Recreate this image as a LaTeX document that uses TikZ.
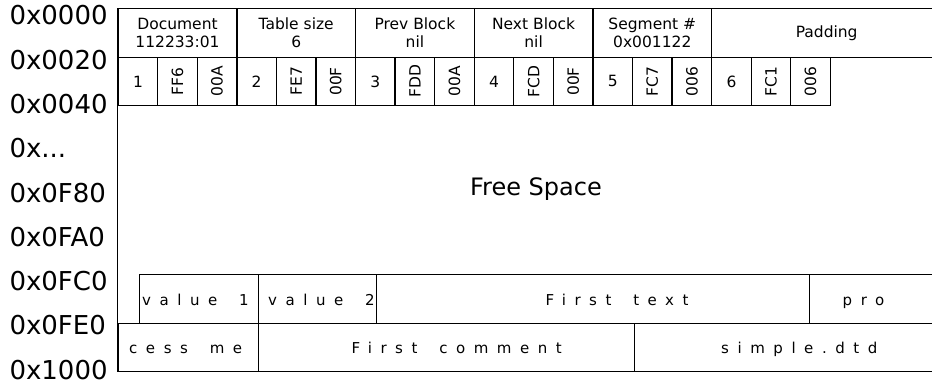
\documentclass[tikz,border=0pt]{standalone}
\usepackage{graphicx}
\usepackage{fontspec}
\setmainfont{DejaVu Sans}
\newfontfamily\spacedfamily[LetterSpace=57]{DejaVu Sans}
\newcommand\hdrfont{\fontsize{15.5}{18.3}\selectfont}
\newcommand\bytefont{\spacedfamily\fontsize{15}{18}\selectfont}
\newcommand\addrfont{\fontsize{26}{30}\selectfont}
\newcommand\freefont{\fontsize{24}{28}\selectfont}
% a word space that also carries the letter spacing
\newcommand\wgap{\hspace{8.5pt}\ }

\tikzset{
  box/.style={draw, line width=1.3pt, inner sep=0pt, anchor=north west,
              minimum height=48.5pt},
  hdr/.style={box, minimum width=118.7pt, align=center, font=\hdrfont},
  slot/.style={box, minimum width=39.57pt, font=\hdrfont},
  bytes/.style={anchor=base west, inner sep=0pt, font=\bytefont},
  addr/.style={anchor=base west, inner sep=0pt, font=\addrfont},
}

\begin{document}
\begin{tikzpicture}[x=1pt,y=-1pt]
\useasboundingbox (0,0) rectangle (932,383);
\clip (0,0) rectangle (932,383);

% address column
\node[addr] (addr0) at (9.3,24.8)  {0x0000};
\node[addr] (addr1) at (9.3,69.1)  {0x0020};
\node[addr] (addr2) at (9.3,113.4) {0x0040};
\node[addr] (addr3) at (9.3,157.7) {0x...};
\node[addr] (addr4) at (9.3,202.0) {0x0F80};
\node[addr] (addr5) at (9.3,246.3) {0x0FA0};
\node[addr] (addr6) at (9.3,290.6) {0x0FC0};
\node[addr] (addr7) at (9.3,334.9) {0x0FE0};
\node[addr] (addr8) at (9.3,379.2) {0x1000};

% block header
\node[hdr] (doc)  at (117.5,8) {Document\\112233:01};
\node[hdr] (tbl)  at (236.2,8) {Table size\\6};
\node[hdr] (prev) at (354.9,8) {Prev Block\\nil};
\node[hdr] (next) at (473.6,8) {Next Block\\nil};
\node[hdr] (seg)  at (592.3,8) {Segment \#\\0x001122};
\node[hdr, minimum width=230pt] (pad) at (711.0,8) {Padding};

% offset table: index, offset, length
\foreach \n/\o/\l [count=\k from 0] in
  {1/FF6/00A, 2/FE7/00F, 3/FDD/00A, 4/FCD/00F, 5/FC7/006, 6/FC1/006} {
  \node[slot] (idx\n) at ({117.5+118.7*\k},56.5) {\n};
  \node[slot] (off\n) at ({157.07+118.7*\k},56.5) {\rotatebox{90}{\o}};
  \node[slot] (len\n) at ({196.64+118.7*\k},56.5) {\rotatebox{90}{\l}};
}

% free space
\node[anchor=base, inner sep=0pt, font=\freefont] (free) at (536,195) {Free Space};

% record data
\node[box, minimum width=118.5pt] (v1)  at (139,274) {};
\node[box, minimum width=118.5pt] (v2)  at (257.5,274) {};
\node[box, minimum width=433pt]   (ft)  at (376,274) {};
\node[box, minimum width=131pt]   (pro) at (809,274) {};
\node[box, minimum width=140pt]   (cm)  at (117.5,322.5) {};
\node[box, minimum width=376.5pt] (fc)  at (257.5,322.5) {};
\node[box, minimum width=306pt]   (sd)  at (634,322.5) {};

\node[bytes] (tv1)  at (142,305.5) {value\wgap 1};
\node[bytes] (tv2)  at (268,305.5) {value\wgap 2};
\node[bytes] (tft)  at (545.5,305.5) {First\wgap text};
\node[bytes] (tpro) at (842.5,305.5) {pro};
\node[bytes] (tcm)  at (129,353.5) {cess\wgap me};
\node[bytes] (tfc)  at (351.5,353.5) {First\wgap comment};
\node[bytes] (tsd)  at (721,353.5) {simple.dtd};

% left edge of the block
\draw[line width=1.3pt] (doc.north west) -- (cm.south west);
\end{tikzpicture}
\end{document}
